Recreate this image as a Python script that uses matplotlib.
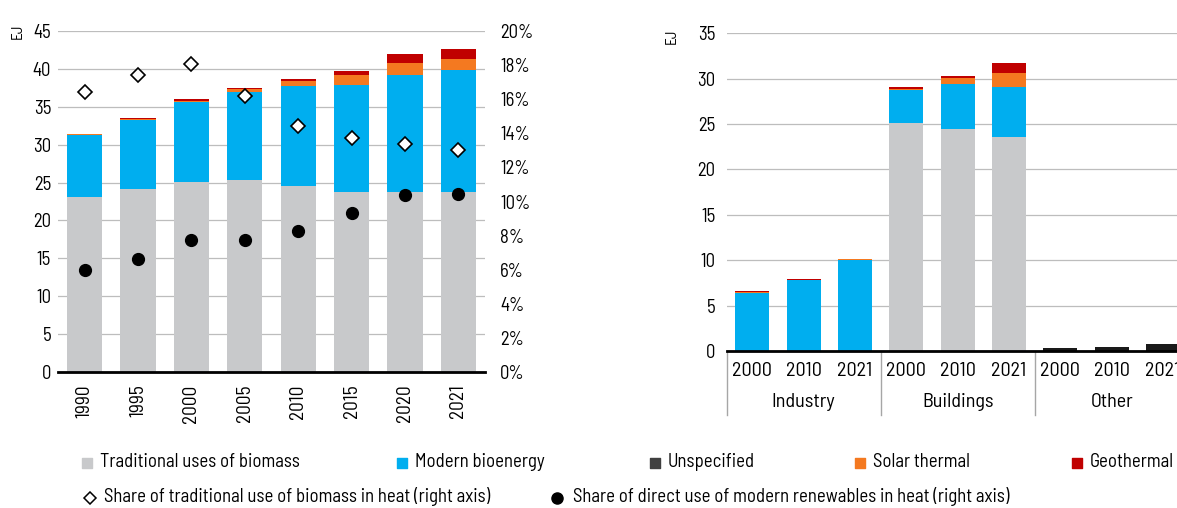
import matplotlib
matplotlib.use("Agg")
import matplotlib.pyplot as plt
import numpy as np
from matplotlib.ticker import PercentFormatter

plt.rcParams['font.family'] = ['Barlow Semi Condensed', 'Archivo Narrow', 'DejaVu Sans']

# left panel data (EJ)
years = ['1990', '1995', '2000', '2005', '2010', '2015', '2020', '2021']
trad = [23.1, 24.2, 25.1, 25.35, 24.6, 23.7, 23.7, 23.7]
modern = [8.2, 9.1, 10.55, 11.55, 13.1, 14.2, 15.55, 16.15]
unspec = [0, 0, 0, 0, 0, 0, 0, 0]
solar = [0.05, 0.1, 0.15, 0.4, 0.7, 1.3, 1.55, 1.5]
geo = [0.1, 0.15, 0.2, 0.2, 0.2, 0.5, 1.1, 1.25]
share_trad = [16.4, 17.4, 18.05, 16.2, 14.4, 13.7, 13.4, 13.0]
share_modern = [6.0, 6.6, 7.77, 7.77, 8.28, 9.3, 10.38, 10.44]

# right panel data (EJ)
sectors = ['Industry', 'Buildings', 'Other']
sector_years = ['2000', '2010', '2021']
s_trad = [0, 0, 0, 25.1, 24.5, 23.56, 0, 0, 0]
s_modern = [6.43, 7.79, 10.07, 3.7, 4.93, 5.5, 0, 0, 0]
s_unspec = [0, 0, 0, 0, 0, 0, 0.37, 0.44, 0.74]
s_solar = [0.05, 0.05, 0.03, 0.1, 0.67, 1.62, 0, 0, 0]
s_geo = [0.1, 0.1, 0.08, 0.2, 0.18, 1.07, 0, 0, 0]

c_trad = '#c8c9cb'
c_modern = '#00aeef'
c_unspec = '#1a1a1a'
c_solar = '#f47920'
c_geo = '#c00000'
grid_c = '#bdbdbd'

W, H = 1177, 508
fig = plt.figure(figsize=(W / 100, H / 100), dpi=100)


def stack(ax, x, series, colors, width):
    bottom = np.zeros(len(x))
    for vals, col in zip(series, colors):
        vals = np.array(vals, dtype=float)
        ax.bar(x, vals, width, bottom=bottom, color=col, zorder=2)
        bottom += vals


# ---- left chart
ax = fig.add_axes([58 / W, 1 - 372 / H, (485 - 58) / W, (372 - 31) / H])
x = np.arange(len(years))
stack(ax, x, [trad, modern, unspec, solar, geo],
      [c_trad, c_modern, c_unspec, c_solar, c_geo], 0.66)
ax.set_xlim(-0.5, len(years) - 0.5)
ax.set_ylim(0, 45)
ax.set_yticks(range(0, 46, 5))
ax.yaxis.grid(True, color=grid_c, lw=0.9, zorder=0)
ax.set_axisbelow(True)
for s in ['top', 'right', 'left']:
    ax.spines[s].set_visible(False)
ax.spines['bottom'].set_linewidth(2)
ax.spines['bottom'].set_zorder(5)
ax.set_xticks(x)
ax.set_xticklabels(years, rotation=90, fontsize=14)
ax.tick_params(axis='x', length=0, pad=9)
ax.tick_params(axis='y', length=0, pad=5, labelsize=13.5)
ax.text(-0.095, 1.0, 'EJ', transform=ax.transAxes, rotation=90,
        fontsize=11, ha='center', va='center')

ax2 = ax.twinx()
ax2.set_ylim(0, 20)
ax2.set_yticks(range(0, 21, 2))
ax2.yaxis.set_major_formatter(PercentFormatter(decimals=0))
ax2.tick_params(axis='y', length=0, pad=11, labelsize=13.5)
for s in ax2.spines.values():
    s.set_visible(False)
ax2.plot(x, share_trad, 'D', ms=7, mfc='white', mec='black', mew=1.2, zorder=4)
ax2.plot(x, share_modern, 'o', ms=8.5, color='black', zorder=4)

# ---- right chart
bx = fig.add_axes([726.7 / W, 1 - 351 / H, (1188.7 - 726.7) / W, (351 - 33.3) / H])
xs = np.arange(len(sectors) * len(sector_years))
stack(bx, xs, [s_trad, s_modern, s_unspec, s_solar, s_geo],
      [c_trad, c_modern, c_unspec, c_solar, c_geo], 0.66)
bx.set_xlim(-0.5, len(xs) - 0.5)
bx.set_ylim(0, 35)
bx.set_yticks(range(0, 36, 5))
bx.yaxis.grid(True, color=grid_c, lw=0.9, zorder=0)
bx.set_axisbelow(True)
for s in ['top', 'right', 'left']:
    bx.spines[s].set_visible(False)
bx.spines['bottom'].set_linewidth(2)
bx.spines['bottom'].set_zorder(5)
bx.set_xticks(xs)
bx.set_xticklabels(sector_years * len(sectors), fontsize=14.5)
bx.tick_params(axis='x', length=0, pad=8)
bx.tick_params(axis='y', length=0, pad=8, labelsize=13.5)
bx.text(-0.118, 0.99, 'EJ', transform=bx.transAxes, rotation=90,
        fontsize=11, ha='center', va='center')
n = len(sector_years)
for i, name in enumerate(sectors):
    bx.text(i * n + (n - 1) / 2, -0.16, name, transform=bx.get_xaxis_transform(),
            ha='center', va='center', fontsize=14.5)
    bx.plot([i * n - 0.5, i * n - 0.5], [0, -0.2], color='#a6a6a6', lw=1,
            transform=bx.get_xaxis_transform(), clip_on=False)

# ---- legend
lax = fig.add_axes([0, 0, 1, 1])
lax.set_xlim(0, W)
lax.set_ylim(H, 0)
lax.axis('off')
row1 = [('Traditional uses of biomass', c_trad, 87),
        ('Modern bioenergy', c_modern, 402),
        ('Unspecified', '#404040', 655),
        ('Solar thermal', c_solar, 860),
        ('Geothermal', c_geo, 1077)]
for label, col, px in row1:
    lax.scatter([px], [463], marker='s', s=45, color=col)
    lax.text(px + 13, 462, label, fontsize=13.5, va='center')
lax.plot([90], [498], 'D', ms=6, mfc='white', mec='black', mew=1.1)
lax.text(104, 497, 'Share of traditional use of biomass in heat (right axis)',
         fontsize=13.5, va='center')
lax.plot([557], [498], 'o', ms=8, color='black')
lax.text(573, 497, 'Share of direct use of modern renewables in heat (right axis)',
         fontsize=13.5, va='center')

fig.savefig('out.png', dpi=100)
